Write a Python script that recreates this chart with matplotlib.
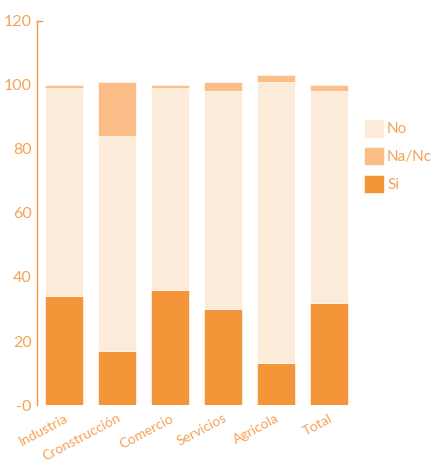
import matplotlib.pyplot as plt

plt.rcParams['font.family'] = ['Lato', 'DejaVu Sans']

# data (percent)
sectores = ['Industria', 'Cronstrucción', 'Comercio', 'Servicios', 'Agricola', 'Total']
si = [34, 17, 36, 30, 13, 32]
no = [65, 67, 63, 68, 88, 66]
nanc = [1, 17, 1, 3, 2, 2]

c_si = '#F5953A'
c_nanc = '#FBBE88'
c_no = '#FDEBDA'
c_txt = '#F5A255'

fig = plt.figure(figsize=(4.41, 4.65), dpi=100)
ax = fig.add_axes([0.084, 0.129, 0.721, 0.826])

x = range(len(sectores))
w = 0.72
bot2 = [a + b for a, b in zip(si, no)]
ax.bar(x, si, w, color=c_si, label='Si', edgecolor='white', linewidth=0.4)
ax.bar(x, no, w, bottom=si, color=c_no, label='No', edgecolor='white', linewidth=0.4)
ax.bar(x, nanc, w, bottom=bot2, color=c_nanc, label='Na/Nc', edgecolor='white', linewidth=0.4)

ax.set_ylim(0, 120)
ax.set_xlim(-0.51, 5.5)
ax.set_yticks([0, 20, 40, 60, 80, 100, 120])
ax.set_yticklabels(['-0', '20', '40', '60', '80', '100', '120'])
ax.set_xticks(list(x))
ax.set_xticklabels(sectores, rotation=28, ha='right', rotation_mode='anchor')

for s in ['top', 'right', 'bottom']:
    ax.spines[s].set_visible(False)
ax.spines['left'].set_color(c_si)
ax.spines['left'].set_linewidth(1.0)
ax.tick_params(axis='y', length=0, pad=4, labelsize=11.5, labelcolor=c_txt)
ax.tick_params(axis='x', length=0, pad=5, labelsize=10, labelcolor=c_txt)
# little cap at the top of the axis
ax.plot([-0.51, -0.42], [120, 120], color=c_si, lw=1.0, clip_on=False)

h, l = ax.get_legend_handles_labels()
order = [1, 2, 0]
leg = ax.legend([h[i] for i in order], [l[i] for i in order],
                loc='center left', bbox_to_anchor=(1.0, 0.648), frameon=False,
                handlelength=1.3, handleheight=1.5, handletextpad=0.2,
                labelspacing=0.6, fontsize=11, borderaxespad=0.2)
for t in leg.get_texts():
    t.set_color(c_txt)

plt.savefig('out.png', dpi=100)
